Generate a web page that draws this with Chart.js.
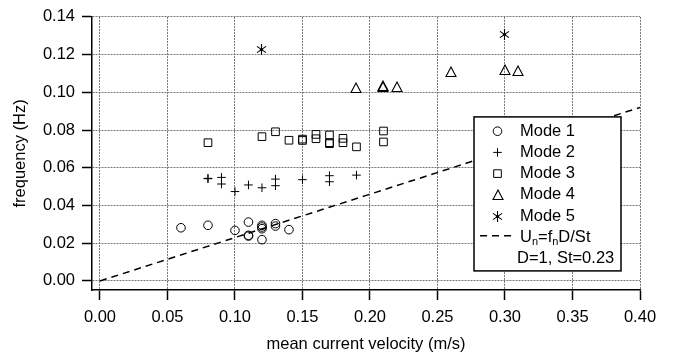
<!DOCTYPE html>
<html>
<head>
<meta charset="utf-8">
<script src="https://cdn.jsdelivr.net/npm/chart.js@4/dist/chart.umd.min.js"></script>
<style>
  body { margin: 0; background: #fff; }
</style>
</head>
<body>
<canvas id="myChart" width="674" height="358"></canvas>
<script>
// values
var mode1X = [0.06, 0.08, 0.10, 0.11, 0.11, 0.11, 0.12, 0.12, 0.12, 0.12, 0.13, 0.13, 0.14];
var mode1Y = [0.0282, 0.0295, 0.0268, 0.0312, 0.0242, 0.0238, 0.0295, 0.0286, 0.0277, 0.0219, 0.0304, 0.0291, 0.0272];

var mode2X = [0.08, 0.08, 0.09, 0.09, 0.10, 0.11, 0.12, 0.13, 0.13, 0.15, 0.17, 0.17, 0.19];
var mode2Y = [0.0544, 0.0542, 0.0549, 0.0514, 0.0474, 0.0509, 0.0494, 0.0540, 0.0505, 0.0537, 0.0558, 0.0526, 0.0561];

var mode3X = [0.08, 0.12, 0.13, 0.14, 0.15, 0.15, 0.16, 0.16, 0.17, 0.17, 0.17, 0.18, 0.18, 0.19, 0.21, 0.21];
var mode3Y = [0.0733, 0.0765, 0.0791, 0.0746, 0.0752, 0.0745, 0.0777, 0.0754, 0.0774, 0.0733, 0.0728, 0.0756, 0.0733, 0.0711, 0.0795, 0.0737];

var mode4X = [0.19, 0.21, 0.21, 0.22, 0.26, 0.30, 0.31];
var mode4Y = [0.1021, 0.1035, 0.1026, 0.1028, 0.1107, 0.1116, 0.1111];

var mode5X = [0.12, 0.30];
var mode5Y = [0.1225, 0.1307];

// U = f D / St  ->  f = 0.23 U
var lineX = [0.00, 0.40];
var lineY = [0.000, 0.092];

var xTicks = [0.00, 0.05, 0.10, 0.15, 0.20, 0.25, 0.30, 0.35, 0.40];
var yTicks = [0.00, 0.02, 0.04, 0.06, 0.08, 0.10, 0.12, 0.14];

var legendLabels = ["Mode 1", "Mode 2", "Mode 3", "Mode 4", "Mode 5"];

var fontFamily = "'Liberation Sans', Arial, sans-serif";

function toPts(xs, ys) {
    var out = [];
    for (var i = 0; i < xs.length; i++) {
        out.push({x: xs[i], y: ys[i]});
    }
    return out;
}

// hollow triangle, width = height
function makeTriangle() {
    var c = document.createElement('canvas');
    c.width = 12; c.height = 12;
    var g = c.getContext('2d');
    g.strokeStyle = '#000';
    g.lineWidth = 1.1;
    g.beginPath();
    g.moveTo(6, 1);
    g.lineTo(11, 10.5);
    g.lineTo(1, 10.5);
    g.closePath();
    g.stroke();
    return c;
}

// asterisk with a dot in the middle
function makeStar() {
    var c = document.createElement('canvas');
    c.width = 13; c.height = 13;
    var g = c.getContext('2d');
    g.strokeStyle = '#000';
    g.lineWidth = 1.1;
    var r = 5.5;
    var angles = [90, 35, -35];
    g.beginPath();
    for (var i = 0; i < angles.length; i++) {
        var a = angles[i] * Math.PI / 180;
        g.moveTo(6.5 - r * Math.cos(a), 6.5 - r * Math.sin(a));
        g.lineTo(6.5 + r * Math.cos(a), 6.5 + r * Math.sin(a));
    }
    g.stroke();
    g.fillStyle = '#000';
    g.beginPath();
    g.arc(6.5, 6.5, 1.6, 0, Math.PI * 2);
    g.fill();
    return c;
}

var triImg = makeTriangle();
var starImg = makeStar();

var markerStyles = [
    {pointStyle: 'circle', radius: 4.3},
    {pointStyle: 'cross', radius: 4.3},
    {pointStyle: 'rect', radius: 5.4},
    {pointStyle: triImg, radius: 6},
    {pointStyle: starImg, radius: 6}
];

Chart.defaults.font.family = fontFamily;
Chart.defaults.font.size = 16.5;
Chart.defaults.color = '#000';

// keep the image markers sharp
var crispMarkers = {
    id: 'crispMarkers',
    beforeDatasetsDraw: function(chart) { chart.ctx.imageSmoothingEnabled = false; },
    afterDatasetsDraw: function(chart) { chart.ctx.imageSmoothingEnabled = true; }
};

var legendBox = {
    id: 'legendBox',
    afterDatasetsDraw: function(chart) {
        var c = chart.ctx;
        var area = chart.chartArea;
        var bx = area.right - 166, by = area.top + 100, bw = 147, bh = 154;
        c.save();
        c.imageSmoothingEnabled = false;
        c.fillStyle = '#fff';
        c.fillRect(bx, by, bw, bh);
        c.lineWidth = 1.5;
        c.strokeStyle = '#000';
        c.strokeRect(bx, by, bw, bh);

        var main = "16.5px " + fontFamily;
        var sub = "11px " + fontFamily;
        c.font = main;
        c.fillStyle = '#000';
        c.textBaseline = 'middle';
        c.textAlign = 'left';
        var symX = bx + 23.5, txtX = bx + 46;
        var rowY = by + 14.3, step = 21.2;
        for (var i = 0; i < legendLabels.length; i++) {
            var y = rowY + i * step;
            c.strokeStyle = '#000';
            c.fillStyle = 'rgba(0,0,0,0)';
            c.lineWidth = 1;
            Chart.helpers.drawPoint(c, {
                pointStyle: markerStyles[i].pointStyle,
                radius: markerStyles[i].radius,
                rotation: 0,
                borderWidth: 1
            }, symX, y);
            c.fillStyle = '#000';
            c.fillText(legendLabels[i], txtX, y);
        }

        // dashed line entry
        var ly = rowY + 5 * step;
        c.beginPath();
        c.setLineDash([7, 5]);
        c.lineWidth = 1.5;
        c.moveTo(bx + 6, ly - 1.5);
        c.lineTo(bx + 39, ly - 1.5);
        c.stroke();
        c.setLineDash([]);

        var x = txtX;
        var parts = [["U", main, 0], ["n", sub, 5], ["=f", main, 0], ["n", sub, 5], ["D/St", main, 0]];
        for (var p = 0; p < parts.length; p++) {
            c.font = parts[p][1];
            c.fillText(parts[p][0], x, ly + parts[p][2]);
            x += c.measureText(parts[p][0]).width;
        }
        c.font = main;
        c.fillText("D=1, St=0.23", bx + 43, rowY + 6 * step);
        c.restore();
    }
};

var ctx = document.getElementById('myChart');

var dataSets = [];
for (var k = 0; k < 5; k++) {
    var xs = [mode1X, mode2X, mode3X, mode4X, mode5X][k];
    var ys = [mode1Y, mode2Y, mode3Y, mode4Y, mode5Y][k];
    dataSets.push({
        label: legendLabels[k],
        data: toPts(xs, ys),
        pointStyle: markerStyles[k].pointStyle,
        pointRadius: markerStyles[k].radius,
        borderColor: '#000',
        backgroundColor: 'rgba(0,0,0,0)',
        borderWidth: 1
    });
}
dataSets.push({
    type: 'line',
    label: 'Un=fnD/St',
    data: toPts(lineX, lineY),
    showLine: true,
    borderColor: '#000',
    borderWidth: 1.5,
    borderDash: [7, 5],
    pointRadius: 0,
    fill: false
});

var myChart = new Chart(ctx, {
    type: 'scatter',
    data: { datasets: dataSets },
    plugins: [crispMarkers, legendBox],
    options: {
        responsive: false,
        animation: false,
        devicePixelRatio: 1,
        layout: { padding: { top: 14, right: 34, left: 0, bottom: 0 } },
        plugins: {
            legend: { display: false },
            tooltip: { enabled: false }
        },
        scales: {
            x: {
                type: 'linear',
                min: -0.0059,
                max: 0.40,
                afterBuildTicks: function(s) { s.ticks = xTicks.map(function(v) { return {value: v}; }); },
                afterFit: function(s) { s.height = 68; },
                ticks: {
                    callback: function(v) { return Number(v).toFixed(2); },
                    padding: 8,
                    maxRotation: 0,
                    autoSkip: false
                },
                grid: { color: '#777', lineWidth: 1, tickLength: 10, tickColor: '#000', tickWidth: 1.5, tickBorderDash: [] },
                border: { display: true, color: '#000', width: 1.5, dash: [2, 1] },
                title: { display: true, text: 'mean current velocity (m/s)', padding: { top: 0, bottom: 4 } }
            },
            y: {
                type: 'linear',
                min: -0.0048,
                max: 0.14,
                afterBuildTicks: function(s) { s.ticks = yTicks.map(function(v) { return {value: v}; }); },
                afterFit: function(s) { s.width = 92; },
                ticks: {
                    callback: function(v) { return Number(v).toFixed(2); },
                    padding: 7,
                    autoSkip: false
                },
                grid: { color: '#777', lineWidth: 1, tickLength: 10, tickColor: '#000', tickWidth: 1.5, tickBorderDash: [] },
                border: { display: true, color: '#000', width: 1.5, dash: [2, 1] },
                title: { display: true, text: 'frequency (Hz)', padding: { top: 11, bottom: 0 } }
            }
        }
    }
});
</script>
</body>
</html>
